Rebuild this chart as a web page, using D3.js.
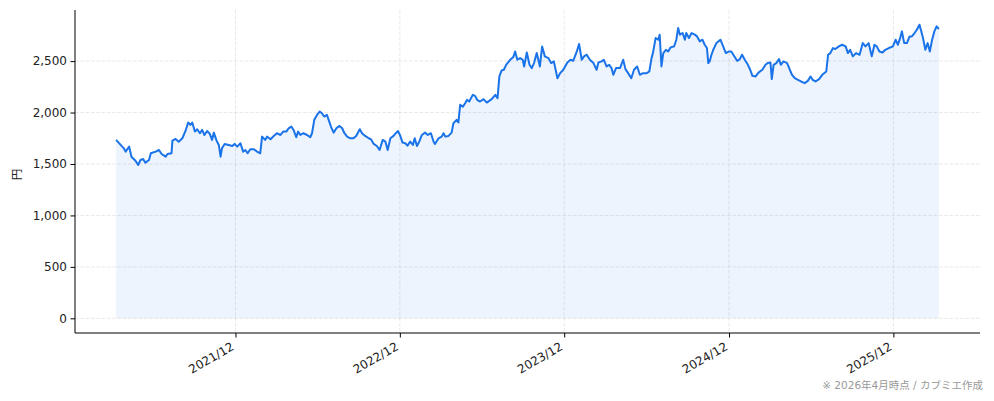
<!DOCTYPE html>
<html>
<head>
<meta charset="utf-8">
<script src="https://cdn.jsdelivr.net/npm/d3@7"></script>
<style>
  html, body { margin: 0; padding: 0; background: #fff; }
  svg { display: block; }
  text { font-family: "DejaVu Sans", "Noto Sans CJK JP", sans-serif; }
</style>
</head>
<body>
<svg id="chart" width="994" height="401"></svg>
<script>
// ---- data (closing price, 円) ----
const dates = [
  "2021-03-11","2021-03-21","2021-03-28","2021-04-01","2021-04-09","2021-04-14","2021-04-23","2021-04-29",
  "2021-05-04","2021-05-10","2021-05-15","2021-05-23","2021-05-27","2021-06-07","2021-06-14","2021-06-20",
  "2021-06-29","2021-07-03","2021-07-12","2021-07-14","2021-07-21","2021-07-28","2021-08-05","2021-08-12",
  "2021-08-18","2021-08-23","2021-08-27","2021-09-02","2021-09-07","2021-09-13","2021-09-18","2021-09-23",
  "2021-09-29","2021-10-05","2021-10-10","2021-10-14","2021-10-20","2021-10-25","2021-10-29","2021-11-01",
  "2021-11-07","2021-11-16","2021-11-24","2021-11-29","2021-12-05","2021-12-12","2021-12-18","2021-12-23",
  "2021-12-28","2022-01-03","2022-01-11","2022-01-18","2022-01-25","2022-01-29","2022-02-05","2022-02-09",
  "2022-02-17","2022-02-24","2022-03-03","2022-03-11","2022-03-17","2022-03-24","2022-03-29","2022-04-04",
  "2022-04-09","2022-04-15","2022-04-19","2022-04-24","2022-05-01","2022-05-09","2022-05-16","2022-05-20",
  "2022-05-25","2022-05-31","2022-06-06","2022-06-11","2022-06-16","2022-06-22","2022-06-26","2022-07-01",
  "2022-07-07","2022-07-13","2022-07-20","2022-07-26","2022-07-31","2022-08-06","2022-08-13","2022-08-20",
  "2022-08-26","2022-09-03","2022-09-08","2022-09-15","2022-09-23","2022-09-28","2022-10-04","2022-10-11",
  "2022-10-17","2022-10-24","2022-10-30","2022-11-04","2022-11-10","2022-11-17","2022-11-22","2022-11-27",
  "2022-12-02","2022-12-07","2022-12-13","2022-12-18","2022-12-24","2022-12-30","2023-01-03","2023-01-08",
  "2023-01-13","2023-01-19","2023-01-26","2023-02-01","2023-02-08","2023-02-14","2023-02-17","2023-02-25",
  "2023-03-04","2023-03-08","2023-03-12","2023-03-19","2023-03-26","2023-03-30","2023-04-06","2023-04-10",
  "2023-04-14","2023-04-20","2023-04-25","2023-04-29","2023-05-04","2023-05-12","2023-05-17","2023-05-22",
  "2023-05-28","2023-06-05","2023-06-12","2023-06-23","2023-07-01","2023-07-06","2023-07-10","2023-07-15",
  "2023-07-20","2023-07-25","2023-08-03","2023-08-10","2023-08-14","2023-08-19","2023-08-25","2023-08-31",
  "2023-09-03","2023-09-09","2023-09-15","2023-09-20","2023-09-25","2023-10-01","2023-10-08","2023-10-13",
  "2023-10-19","2023-10-27","2023-11-02","2023-11-08","2023-11-16","2023-11-22","2023-11-29","2023-12-08",
  "2023-12-15","2023-12-21","2023-12-29","2024-01-03","2024-01-09","2024-01-14","2024-01-20","2024-01-27",
  "2024-02-04","2024-02-11","2024-02-15","2024-02-22","2024-02-27","2024-03-04","2024-03-10","2024-03-15",
  "2024-03-19","2024-03-25","2024-04-03","2024-04-10","2024-04-15","2024-04-21","2024-04-28","2024-05-04",
  "2024-05-11","2024-05-17","2024-05-24","2024-06-01","2024-06-07","2024-06-12","2024-06-15","2024-06-21",
  "2024-06-27","2024-06-30","2024-07-04","2024-07-08","2024-07-14","2024-07-19","2024-07-24","2024-08-01",
  "2024-08-06","2024-08-10","2024-08-14","2024-08-20","2024-08-25","2024-08-28","2024-09-03","2024-09-09",
  "2024-09-16","2024-09-21","2024-09-27","2024-10-03","2024-10-08","2024-10-13","2024-10-16","2024-10-19",
  "2024-10-23","2024-10-27","2024-11-03","2024-11-12","2024-11-18","2024-11-24","2024-12-01","2024-12-06",
  "2024-12-12","2024-12-19","2024-12-25","2024-12-30","2025-01-05","2025-01-12","2025-01-17","2025-01-22",
  "2025-01-29","2025-02-05","2025-02-13","2025-02-20","2025-02-25","2025-03-03","2025-03-06","2025-03-10",
  "2025-03-16","2025-03-22","2025-03-26","2025-04-01","2025-04-09","2025-04-15","2025-04-20","2025-04-26",
  "2025-05-03","2025-05-10","2025-05-18","2025-05-25","2025-05-31","2025-06-05","2025-06-11","2025-06-19",
  "2025-06-26","2025-07-05","2025-07-09","2025-07-14","2025-07-20","2025-07-25","2025-08-02","2025-08-09",
  "2025-08-17","2025-08-22","2025-08-27","2025-09-02","2025-09-09","2025-09-17","2025-09-24","2025-09-30",
  "2025-10-07","2025-10-14","2025-10-20","2025-10-25","2025-10-31","2025-11-07","2025-11-13","2025-11-21",
  "2025-11-30","2025-12-06","2025-12-11","2025-12-16","2025-12-20","2025-12-25","2025-12-31","2026-01-06",
  "2026-01-11","2026-01-17","2026-01-22","2026-01-28","2026-01-31","2026-02-04","2026-02-10","2026-02-15",
  "2026-02-20","2026-02-25","2026-03-02","2026-03-07","2026-03-12"
];
const prices = [
  1734,1685,1652,1620,1669,1571,1532,1490,
  1539,1549,1513,1539,1604,1620,1636,1597,
  1571,1597,1604,1727,1743,1717,1750,1821,
  1903,1880,1903,1815,1838,1799,1831,1782,
  1821,1792,1734,1805,1727,1685,1571,1652,
  1695,1685,1675,1695,1669,1701,1620,1636,
  1604,1643,1643,1620,1604,1766,1734,1766,
  1740,1773,1799,1782,1815,1815,1847,1864,
  1831,1760,1815,1782,1799,1782,1760,1799,
  1929,1977,2010,1993,1961,1977,1929,1864,
  1805,1847,1870,1847,1799,1766,1750,1750,
  1773,1838,1799,1773,1750,1740,1695,1675,
  1636,1734,1717,1636,1750,1773,1799,1821,
  1773,1708,1701,1678,1717,1685,1750,1675,
  1717,1782,1805,1782,1799,1717,1695,1750,
  1766,1799,1766,1773,1805,1896,1929,1903,
  2075,2058,2091,2123,2107,2172,2162,2123,
  2107,2130,2097,2130,2172,2139,2351,2409,
  2416,2464,2513,2539,2594,2513,2529,2513,
  2448,2584,2464,2432,2481,2578,2448,2643,
  2546,2529,2481,2497,2334,2383,2416,2487,
  2513,2503,2594,2666,2513,2546,2562,2513,
  2481,2416,2487,2497,2513,2448,2464,2432,
  2367,2432,2432,2513,2422,2383,2334,2416,
  2448,2367,2383,2383,2399,2529,2578,2724,
  2708,2757,2448,2578,2610,2594,2633,2643,
  2708,2821,2757,2773,2708,2773,2724,2773,
  2757,2740,2692,2708,2659,2627,2481,2497,
  2562,2610,2675,2708,2643,2578,2594,2594,
  2552,2503,2519,2562,2513,2464,2416,2357,
  2351,2390,2416,2464,2481,2487,2325,2464,
  2481,2519,2464,2497,2481,2416,2367,2334,
  2318,2302,2286,2308,2351,2318,2302,2325,
  2367,2399,2562,2578,2627,2617,2643,2659,
  2643,2578,2610,2546,2578,2562,2675,2643,
  2675,2546,2659,2643,2594,2584,2610,2627,
  2643,2708,2659,2724,2789,2675,2675,2740,
  2740,2773,2805,2854,2805,2740,2610,2675,
  2594,2708,2789,2838,2812
];
const yTicks = [0, 500, 1000, 1500, 2000, 2500];
const xTickDates = ["2021-12-01","2022-12-01","2023-12-01","2024-12-01","2025-12-01"];
const yLabel = "円";
const footnote = "※ 2026年4月時点 / カブミエ作成";

// ---- chart ----
(function () {
  const parse = d3.utcParse("%Y-%m-%d");
  const data = dates.map((d, i) => ({ date: parse(d), v: prices[i] }));
  const FONT = '"DejaVu Sans", "Noto Sans CJK JP", sans-serif';

  const mLeft = 75, mRight = 980, mTop = 10, mBottom = 333;
  const svg = d3.select("#chart");

  const [d0, d1] = d3.extent(data, d => d.date);
  const span = d1 - d0;
  const x = d3.scaleUtc()
    .domain([new Date(+d0 - span * 0.05), new Date(+d1 + span * 0.05)])
    .range([mLeft, mRight]);

  const vmax = d3.max(prices);
  const y = d3.scaleLinear()
    .domain([0 - vmax * 0.05, vmax * 1.05])
    .range([mBottom, mTop]);

  const xt = xTickDates.map(parse);

  // grid
  const grid = svg.append("g");
  grid.selectAll("line.gy").data(yTicks).join("line")
    .attr("x1", mLeft).attr("x2", mRight)
    .attr("y1", d => y(d)).attr("y2", d => y(d))
    .attr("stroke", "#b0b0b0").attr("stroke-opacity", 0.35)
    .attr("stroke-width", 0.8).attr("stroke-dasharray", "3.7,1.6");
  grid.selectAll("line.gx").data(xt).join("line")
    .attr("x1", d => x(d)).attr("x2", d => x(d))
    .attr("y1", mTop).attr("y2", mBottom)
    .attr("stroke", "#b0b0b0").attr("stroke-opacity", 0.35)
    .attr("stroke-width", 0.8).attr("stroke-dasharray", "3.7,1.6");

  // area
  svg.append("path").datum(data)
    .attr("fill", "#1a73e8").attr("fill-opacity", 0.08)
    .attr("d", d3.area().x(d => x(d.date)).y0(y(0)).y1(d => y(d.v)));

  // line
  svg.append("path").datum(data)
    .attr("fill", "none").attr("stroke", "#1a73e8")
    .attr("stroke-width", 2).attr("stroke-linejoin", "round")
    .attr("d", d3.line().x(d => x(d.date)).y(d => y(d.v)));

  // axes
  const yAxis = svg.append("g").attr("transform", `translate(${mLeft},0)`)
    .call(d3.axisLeft(y).tickValues(yTicks).tickFormat(d3.format(",")).tickSize(4.5).tickPadding(3.5));
  const xAxis = svg.append("g").attr("transform", `translate(0,${mBottom})`)
    .call(d3.axisBottom(x).tickValues(xt).tickFormat(d3.utcFormat("%Y/%m")).tickSize(4.5).tickPadding(3));

  [yAxis, xAxis].forEach(g => {
    g.select(".domain").attr("stroke", "#000").attr("stroke-width", 1);
    g.selectAll(".tick line").attr("stroke", "#000").attr("stroke-width", 1);
    g.selectAll("text").attr("fill", "#222").style("font-size", "12px")
      .style("font-family", FONT);
  });
  yAxis.select(".domain").attr("d", `M0,${mTop}V${mBottom}`);
  xAxis.select(".domain").attr("d", `M${mLeft},0H${mRight}`);

  xAxis.selectAll(".tick text")
    .attr("text-anchor", "end")
    .attr("dy", null)
    .attr("y", 0).attr("x", 0)
    .attr("transform", "translate(-1,16) rotate(-30)");

  // y label
  svg.append("text")
    .attr("transform", `translate(21,${(mTop + mBottom) / 2 + 3}) rotate(-90)`)
    .attr("text-anchor", "middle")
    .attr("fill", "#222").style("font-size", "11.5px").style("font-family", FONT)
    .text(yLabel);

  // footnote
  svg.append("text")
    .attr("x", 983).attr("y", 389)
    .attr("text-anchor", "end")
    .attr("fill", "#999").style("font-size", "10.5px").style("font-family", FONT)
    .text(footnote);
})();
</script>
</body>
</html>
